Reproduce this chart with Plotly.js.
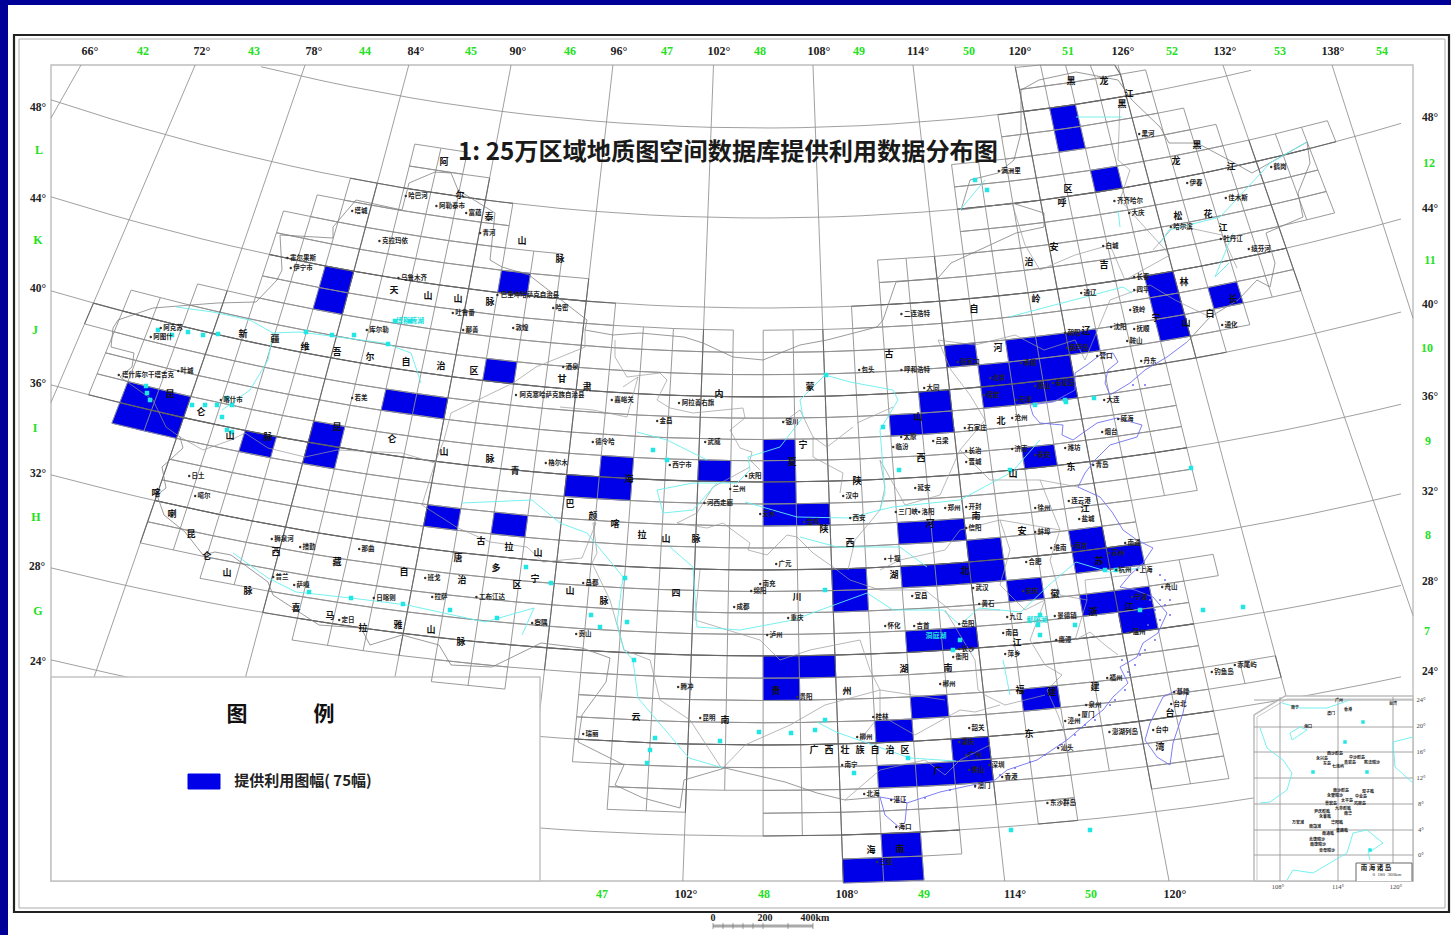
<!DOCTYPE html>
<html><head><meta charset="utf-8">
<script src="https://cdn.plot.ly/plotly-3.0.1.min.js"></script>
<style>html,body{margin:0;padding:0;background:#fff}#c{width:1451px;height:935px}</style>
</head><body><div id="c"></div>
<script>
// ---- map scale tables ----
const latCentre=[[16,932],[18,884],[20,836],[24,745],[28,656],[32,570],[36,482],[40,397],[44,308],[48,218],[52,128],[56,38]];
const latSag=[[16,75],[20,80],[24,85],[28,88],[32,95],[36,97],[40,106],[44,111],[48,118],[52,123],[56,126]];
const lonSlope=[[66,-.5132],[72,-.4273],[78,-.3447],[84,-.2667],[90,-.1898],[96,-.1132],[102,-.0376],[108,.0372],[114,.1124],[120,.189],[126,.2665],[132,.3454],[138,.4274]];
// ---- sheets supplied (south latitude, west longitude) : 75 sheets ----
const suppliedSheets=[
[36,75],[36,76.5],[35,75],[35,76.5],[43,82.5],[42,82.5],[44,91.5],[40,91.5],[38,87],[38,88.5],
[35,81],[36,84],[35,84],[35,96],[35,97.5],[36,97.5],[36,102],[33,90],[33,93],[51,121.5],
[50,121.5],[48,123],[43,124.5],[42,124.5],[41,124.5],[42,127.5],[41,114],[41,117],[41,118.5],[41,120],
[40,115.5],[40,117],[40,118.5],[39,115.5],[39,117],[39,118.5],[39,112.5],[38,111],[38,112.5],[36,117],
[37,105],[36,105],[35,105],[34,105],[34,106.5],[33,111],[33,112.5],[32,114],[31,111],[31,112.5],
[31,114],[30,115.5],[32,118.5],[31,118.5],[31,120],[29,118.5],[29,120],[28,120],[28,111],[28,112.5],
[31,108],[30,108],[27,105],[27,106.5],[26,105],[25,111],[24,109.5],[23,112.5],[22,109.5],[22,111],
[22,112.5],[25,115.5],[19,109.5],[18,108],[18,109.5]];
// ---- sheet grid: south latitude of each row, then its west/east longitude runs ----
const gridRows=[
[53,[[120,126]]],[52,[[120,127.5]]],[51,[[118.5,127.5]]],[50,[[118.5,129]]],
[49,[[85.5,88.5],[115.5,130.5]]],[48,[[85.5,90],[115.5,136.5]]],[47,[[82.5,91.5],[115.5,135]]],[46,[[81,91.5],[115.5,135]]],
[45,[[79.5,94.5],[111,135]]],[44,[[79.5,96],[111,132]]],[43,[[79.5,97.5],[109.5,132]]],[42,[[79.5,103.5],[105,132]]],
[41,[[76.5,129]]],[40,[[73.5,127.5]]],[39,[[72,124.5]]],[38,[[73.5,124.5]]],[37,[[73.5,124.5]]],[36,[[73.5,124.5]]],
[35,[[75,124.5]]],[34,[[78,124.5]]],[33,[[78,121.5]]],[32,[[78,121.5]]],[31,[[78,121.5]]],[30,[[78,124.5]]],
[29,[[81,123]]],[28,[[84,123]]],[27,[[85.5,123]]],[26,[[91.5,94.5],[97.5,123]]],[25,[[97.5,126]]],[24,[[97.5,123]]],
[23,[[97.5,123]]],[22,[[99,123]]],[21,[[99,102],[105,117],[120,123]]],[20,[[105,112.5],[115.5,117]]],[19,[[108,112.5]]],[18,[[108,111]]]];
const parallels=[52,48,44,40,36,32,28,24,20];
const meridians=[66,72,78,84,90,96,102,108,114,120,126,132,138];
const meridianTop={66:[81,.566],138:[1332,.32]};
// ---- lines (page pixels) ----
const nationalBorder=[[113,328],[118,320],[153,308],[217,303],[256,302],[277,280],[282,270],[280,235],[333,238],[333,227],[356,200],[402,210],[409,183],[435,172],[451,173],[458,190],[495,213],[490,260],[502,267],[529,275],[587,320],[585,330],[613,335],[640,333],[684,337],[703,343],[733,357],[763,360],[800,345],[827,340],[877,327],[883,320],[896,282],[938,278],[951,263],[991,245],[1016,233],[1044,227],[1044,213],[1012,203],[961,210],[970,180],[998,173],[1014,160],[1021,133],[1021,90],[1039,80],[1076,72],[1118,80],[1132,100],[1160,127],[1169,143],[1197,143],[1229,160],[1252,173],[1307,142],[1310,163],[1298,193],[1303,217],[1266,233],[1275,263],[1270,287],[1257,280],[1238,300],[1210,317],[1187,342]];
const southBorder=[[880,797],[845,800],[817,793],[785,782],[725,768],[684,780],[680,808],[643,798],[615,785],[624,765],[578,742],[582,715],[606,682],[610,658],[582,648],[541,643],[492,667],[451,665],[439,645],[402,635],[370,645],[361,628],[319,625],[296,610],[273,595],[268,582],[231,555],[215,552],[203,555],[185,532],[164,515],[157,495],[166,488],[162,467],[183,448],[180,437],[166,427],[153,400],[120,377],[132,367],[134,353],[111,347],[113,328]];
const provinceLines=[
[[180,437],[203,450],[231,440],[245,433],[268,448],[305,457],[337,450],[402,453],[435,463],[444,440],[451,413],[513,383],[536,367],[585,347],[585,330]],
[[435,463],[422,505],[458,528],[490,542],[527,547],[543,562],[582,558],[596,523],[593,523]],
[[560,407],[593,410],[627,417],[638,377],[623,387]],
[[615,340],[615,357],[627,377],[660,373],[667,380],[657,400],[670,408],[693,413],[743,408],[745,418],[730,430],[740,448],[752,452],[750,460],[760,470]],
[[782,423],[800,410],[813,437],[813,457],[843,473],[840,493]],
[[853,427],[827,447],[813,437]],
[[893,407],[857,423]],[[880,460],[885,487],[880,510]],
[[593,523],[597,553],[592,563],[610,600],[624,650],[650,660],[660,700],[690,720],[722,769]],
[[677,523],[707,528],[723,523],[750,543],[748,550],[767,555],[787,535],[797,537],[813,553],[833,567]],
[[697,513],[713,487],[750,467]],
[[677,523],[697,513]],
[[880,510],[855,540],[848,570]],
[[833,567],[850,580],[880,590],[925,590]],
[[700,570],[695,620],[760,640],[780,660],[810,650],[860,640]],
[[970,395],[951,370],[938,340],[975,345],[1015,335],[1044,350],[1075,340],[1085,360]],
[[1012,203],[1025,245],[1040,270],[1075,255],[1110,245],[1125,280],[1170,255],[1120,200],[1130,170],[1118,160],[1120,100]],
[[1085,360],[1110,300],[1150,285],[1175,300],[1210,317]],
[[1153,250],[1175,225],[1222,235],[1237,268]],
[[960,450],[990,480],[1040,480],[1078,487]],
[[880,460],[905,505],[940,495],[960,450],[985,420],[970,395]],
[[1040,480],[1060,530],[1000,520],[960,530],[945,550],[900,560],[880,570]],
[[1060,530],[1050,560],[1060,595],[1087,600],[1085,580],[1130,575]],
[[1000,520],[1010,550],[1000,585],[1025,610],[1045,600]],
[[925,590],[950,610],[1000,610]],
[[1045,600],[1030,640],[1045,665],[1062,675],[1047,690],[1058,715],[1067,740]],
[[1087,600],[1075,640],[1090,632],[1105,645],[1118,655]],
[[945,610],[975,660],[978,690],[985,695],[1005,705],[1045,695]],
[[860,640],[870,670],[880,690],[945,700]],
[[722,769],[745,745],[790,725],[825,705],[880,690],[880,715],[915,735],[960,710],[975,712],[1000,705]],
[[880,715],[860,740]],[[845,800],[880,770],[925,760],[945,775]],[[990,745],[960,760],[945,775]]];
const blueCoast=[[1187,342],[1167,357],[1145,370],[1130,383],[1110,395],[1105,383],[1108,370],[1118,362],[1113,353],[1100,355],[1087,365],[1075,373],[1075,390],[1053,402],[1030,405],[1033,415],[1040,423],[1063,425],[1062,435],[1073,440],[1087,430],[1097,423],[1117,418],[1142,425],[1137,437],[1110,445],[1105,450],[1095,460],[1085,473],[1078,487],[1100,497],[1112,512],[1123,530],[1137,540],[1153,548],[1143,563],[1130,575],[1120,587],[1135,590],[1153,597],[1167,613],[1158,633],[1143,643],[1137,657],[1120,667],[1128,683],[1113,697],[1103,710],[1090,720],[1067,740],[1037,760],[1007,770],[995,780],[963,787],[940,792],[907,803],[897,800],[880,797],[885,815],[900,828],[905,822],[907,803]];
const taiwanCoast=[[1177,690],[1163,697],[1150,723],[1145,740],[1157,757],[1170,765],[1173,743],[1183,713],[1187,693],[1177,690]];
const coastIslands=[[1150,600],[1155,610],[1160,620],[1165,605],[1170,600],[1148,625],[1155,640],[1145,650],[1135,665],[1130,675],[1125,690],[1115,700],[1110,705],[1095,720],[1085,725],[1075,735],[1060,745],[1045,755],[1030,762],[1015,768],[1000,775],[990,782],[975,787],[950,790],[925,798],[905,800],[1160,575],[1165,580],[1170,590],[1133,385],[1145,385],[1128,672],[1122,660],[1140,655],[1170,615],[1160,600]];
const rivers=[
[[637,432],[667,440],[707,460]],
[[657,490],[663,513],[693,510],[717,483],[737,483],[750,470],[748,457],[780,447],[803,417],[800,400],[825,375],[850,382],[893,390],[898,400],[880,430],[883,470],[885,493],[880,510],[893,507],[960,500],[1012,472],[1040,440]],
[[657,490],[693,483],[717,483]],
[[745,502],[797,517],[850,518],[880,510]],
[[800,537],[837,547],[900,547],[927,567]],
[[462,503],[532,500],[560,523],[587,533],[623,577],[617,623],[624,650],[633,660],[638,698],[689,758],[723,768]],
[[670,547],[693,567],[697,627],[740,630],[793,620],[867,593],[893,610],[943,610],[960,625],[979,608],[1021,612],[1049,585],[1076,562],[1109,572],[1141,568]],
[[233,553],[268,578],[296,592],[351,598],[407,605],[485,622],[534,608],[522,635]],
[[176,307],[213,312],[250,320],[273,333],[300,332],[384,343],[411,353],[421,383]],
[[273,333],[268,360],[250,390],[222,410]],
[[1076,117],[1122,117]],[[1307,142],[1270,163],[1261,173],[1220,217],[1169,230],[1160,243]],
[[1118,210],[1120,227]],[[1009,317],[1072,300],[1123,287],[1132,293]],
[[1229,263],[1215,277],[1233,233]],[[817,722],[836,732],[910,758],[956,761]],
[[960,210],[985,180]],[[1003,660],[1010,695]]];
const lakes=[[158,330],[172,335],[188,332],[203,335],[218,334],[146,386],[147,393],[150,400],[192,405],[205,405],[217,405],[227,398],[232,405],[222,417],[227,430],[232,432],[306,332],[332,335],[354,335],[388,344],[395,321],[410,321],[653,450],[667,460],[309,592],[351,598],[403,604],[450,610],[497,618],[526,567],[551,583],[625,578],[591,615],[600,627],[627,622],[634,660],[655,738],[650,750],[647,763],[825,590],[1040,615],[1038,625],[1040,635],[1035,405],[1065,400],[953,650],[960,640],[1116,570],[1105,570],[1075,625],[1140,610],[1203,610],[1243,607],[1011,830],[1090,830],[825,720],[791,733],[815,730],[854,773],[908,758],[720,741],[759,732],[1010,470],[899,470],[1191,468],[826,375],[883,427],[975,180],[987,190],[1066,402],[1094,398]];
// ---- frame, inset and scale ----
const legendBox=[[51,677],[540,677],[540,881],[51,881],[51,677]];
const insetBox=[[1254,881],[1254,715],[1285,696],[1413,696],[1413,881],[1254,881]];
const insetInner=[[1257,881],[1257,717],[1287,699],[1413,699]];
const insetSea=[[1356,881],[1356,863],[1412,863],[1412,881]];
const insetRows=[700,727,752,778,804,830,855];
const insetCols=[1280,1338,1393];
const insetCoast=[[[1282,703],[1300,708],[1327,708],[1350,700]],[[1290,733],[1292,740],[1307,730],[1300,727],[1290,733]],[[1260,728],[1267,748],[1283,760],[1292,773],[1287,790],[1270,802],[1260,803]],[[1287,880],[1293,870],[1313,873],[1347,853],[1353,833],[1367,830],[1383,843],[1368,853],[1370,860]],[[1413,737],[1393,742],[1395,767],[1413,783]]];
const insetBlobs=[[1313,772],[1367,772],[1345,742],[1363,722],[1370,850]];
const legendSwatch=[[188,774],[220,774],[220,789],[188,789],[188,774]];
const scaleBar=[[713,926],[813,926]];
const scaleTicks=[713,723,733,743,753,763,788,813];
// ---- texts ----
const topDeg=[["66°",90],["72°",202],["78°",314],["84°",416],["90°",518],["96°",619],["102°",719],["108°",819],["114°",918],["120°",1020],["126°",1123],["132°",1225],["138°",1333]];
const topGreen=[["42",143],["43",254],["44",365],["45",471],["46",570],["47",667],["48",760],["49",859],["50",969],["51",1068],["52",1172],["53",1280],["54",1382]];
const leftDeg=[["48°",38,108],["44°",38,199],["40°",38,289],["36°",38,384],["32°",38,474],["28°",37,567],["24°",38,662]];
const leftGreen=[["L",39,151],["K",38,241],["J",35,331],["I",35,429],["H",36,518],["G",38,612]];
const rightDeg=[["48°",1430,118],["44°",1430,209],["40°",1430,305],["36°",1430,397],["32°",1430,492],["28°",1430,582],["24°",1430,672]];
const rightGreen=[["12",1429,164],["11",1430,261],["10",1427,349],["9",1428,442],["8",1428,536],["7",1427,632]];
const bottomDeg=[["102°",686],["108°",847],["114°",1015],["120°",1175]];
const bottomGreen=[["47",602],["48",764],["49",924],["50",1091]];
const provinceChars=[["新",243,335],["疆",275,340],["维",305,348],["吾",337,353],["尔",370,358],["自",406,363],["治",441,367],["区",474,372],["天",394,291],["山",428,297],["山",458,300],["脉",490,303],["阿",444,163],["尔",460,196],["泰",489,218],["山",522,242],["脉",560,260],["昆",170,395],["仑",201,413],["山",230,437],["脉",268,438],["昆",337,428],["仑",392,440],["山",444,453],["脉",490,460],["甘",562,380],["肃",587,388],["青",515,472],["海",629,480],["巴",570,505],["颜",593,517],["喀",615,525],["拉",642,536],["山",666,540],["脉",696,540],["喀",156,494],["喇",172,515],["昆",191,535],["仑",207,557],["山",227,574],["脉",248,592],["西",276,553],["藏",337,563],["自",404,573],["治",462,581],["区",517,586],["唐",458,559],["古",481,542],["拉",509,548],["山",538,554],["多",496,569],["宁",535,580],["山",570,592],["脉",604,602],["四",676,594],["喜",296,609],["马",330,617],["拉",363,629],["雅",398,626],["山",431,631],["脉",461,643],["云",636,718],["南",725,721],["内",719,395],["蒙",810,388],["古",889,355],["自",974,310],["治",1029,263],["区",1068,190],["河",998,349],["北",1001,422],["宁",803,446],["夏",792,463],["山",918,418],["西",921,459],["山",1013,475],["东",1071,468],["陕",857,482],["南",976,517],["河",930,525],["陕",824,530],["西",850,544],["湖",894,576],["北",965,572],["安",1022,532],["徽",1055,595],["江",1085,510],["苏",1099,562],["浙",1093,613],["江",1129,608],["川",797,598],["贵",776,692],["州",847,692],["湖",904,670],["南",948,669],["江",1017,644],["福",1020,691],["建",1052,693],["建",1095,688],["广",938,772],["东",1029,735],["台",1170,714],["湾",1160,748],["海",871,851],["南",900,850],["广",814,751],["西",829,751],["壮",845,751],["族",860,751],["自",875,751],["治",890,751],["区",905,751],["黑",1071,82],["龙",1104,82],["江",1129,95],["黑",1122,105],["黑",1197,146],["龙",1176,162],["江",1231,168],["江",1223,229],["松",1178,217],["花",1208,215],["辽",1086,332],["宁",1156,319],["吉",1104,266],["林",1184,283],["白",1210,315],["山",1186,324],["长",1233,300],["呼",1062,204],["安",1054,248],["岭",1036,300]];
const cityNames=[["哈巴河",418,196],["阿勒泰市",452,206],["富蕴",475,213],["青河",489,233],["塔城",361,211],["克拉玛依",395,241],["霍尔果斯",303,258],["伊宁市",303,268],["乌鲁木齐",414,278],["吐鲁番",465,313],["库尔勒",379,330],["哈密",562,308],["若羌",361,398],["鄯善",472,330],["敦煌",522,328],["阿克塞哈萨克族自治县",552,395],["巴里坤哈萨克自治县",530,295],["酒泉",572,367],["嘉峪关",624,400],["阿拉善右旗",698,403],["西宁市",682,465],["格尔木",558,463],["德令哈",605,442],["武威",714,442],["金昌",666,421],["喀什市",233,400],["阿克苏",173,328],["阿图什",163,337],["塔什库尔干塔吉克",148,375],["叶城",187,371],["日土",198,476],["噶尔",204,496],["狮泉河",284,539],["措勤",309,547],["那曲",368,549],["普兰",282,577],["萨嘎",303,585],["日喀则",386,598],["拉萨",441,597],["察隅",541,623],["工布江达",492,597],["定日",348,620],["昌都",592,583],["班戈",434,578],["贡山",585,634],["腾冲",687,687],["瑞丽",592,734],["昆明",709,718],["河西走廊",720,503],["二连浩特",917,314],["呼和浩特",917,370],["包头",868,370],["张家口",970,362],["大同",933,388],["北京",999,378],["天津",1025,400],["保定",993,395],["唐山",1044,386],["秦皇岛",1065,383],["承德",1030,363],["朝阳",1074,333],["葫芦岛",1079,348],["通辽",1090,293],["沈阳",1120,327],["铁岭",1139,310],["抚顺",1143,329],["鞍山",1136,341],["营口",1106,356],["丹东",1150,361],["大连",1113,400],["四平",1143,290],["长春",1143,277],["白城",1112,246],["齐齐哈尔",1130,201],["大庆",1138,213],["哈尔滨",1183,227],["佳木斯",1238,198],["伊春",1196,183],["鹤岗",1280,167],["黑河",1148,134],["满洲里",1011,171],["牡丹江",1233,239],["绥芬河",1261,249],["通化",1231,325],["济南",1021,449],["泰安",1044,455],["青岛",1102,465],["威海",1127,419],["烟台",1111,432],["潍坊",1074,448],["石家庄",977,428],["沧州",1021,418],["太原",910,437],["吕梁",942,441],["临汾",902,447],["长治",975,451],["晋城",975,462],["银川",792,422],["西安",859,518],["宝鸡",813,522],["天水",769,514],["兰州",739,489],["庆阳",755,476],["延安",924,488],["汉中",852,496],["三门峡",908,512],["洛阳",928,512],["郑州",954,508],["开封",975,507],["徐州",1044,508],["连云港",1081,501],["盐城",1088,519],["蚌埠",1044,532],["淮南",1060,548],["南京",1081,546],["合肥",1035,562],["信阳",975,528],["南通",1134,543],["上海",1146,570],["杭州",1125,570],["苏州",1118,553],["武汉",982,588],["黄石",988,604],["九江",1016,617],["安庆",1032,591],["宜昌",921,596],["十堰",894,559],["广元",785,564],["南充",769,584],["绵阳",760,591],["成都",743,607],["重庆",797,618],["泸州",776,635],["贵阳",806,697],["怀化",894,626],["吉首",923,626],["岳阳",968,624],["长沙",968,649],["南昌",1012,633],["景德镇",1067,616],["宁波",1141,597],["温州",1139,632],["舟山",1171,587],["萍乡",1014,654],["鹰潭",1065,640],["衡阳",962,657],["郴州",949,684],["福州",1116,678],["厦门",1088,715],["漳州",1074,721],["泉州",1095,705],["汕头",1067,748],["广州",975,755],["肇庆",968,742],["韶关",978,728],["桂林",882,717],["柳州",866,737],["南宁",851,765],["北海",873,794],["海口",905,827],["三亚",886,862],["湛江",900,800],["深圳",998,765],["香港",1011,777],["澳门",984,786],["佛山",978,770],["基隆",1183,692],["台北",1180,704],["台中",1162,730],["澎湖列岛",1125,732],["钓鱼岛",1224,672],["赤尾屿",1247,665],["东沙群岛",1063,803]];
const lakeNames=[["博斯腾湖",410,321],["洞庭湖",936,636],["鄱阳湖",1037,620]];
const insetNames=[["西沙群岛",1335,754],["中沙群岛",1357,758],["永兴岛",1322,759],["东岛",1327,764],["黄岩岛",1350,763],["宪法暗沙",1372,763],["七连屿",1338,767],["南沙群岛",1341,791],["双子礁",1368,792],["永登暗沙",1335,796],["中业岛",1361,797],["太平岛",1347,801],["景宏岛",1331,804],["鸿庥岛",1360,804],["九章群礁",1343,809],["尹庆群礁",1322,812],["南华",1348,814],["永暑礁",1325,817],["华阳礁",1337,823],["万安滩",1298,823],["南薇滩",1315,827],["皇路礁",1342,831],["南通礁",1328,834],["北康暗沙",1317,840],["南康暗沙",1318,845],["曾母暗沙",1327,851],["南宁",1295,708],["广州",1339,701],["澳门",1331,714],["香港",1348,710],["台湾",1393,704],["海口",1308,727]];
const insetLat=[["24°",1421,700],["20°",1421,726],["16°",1421,752],["12°",1421,778],["8°",1421,804],["4°",1421,830],["0°",1421,855]];
const insetLon=[["108°",1278,887],["114°",1338,887],["120°",1396,887]];
const scaleText=[["0",713,918],["200",765,918],["400km",815,918]];
const legendHead=[["图",237,716],["例",324,716]];
const legendLabel="提供利用图幅( 75幅)";
const titleText="1: 25万区域地质图空间数据库提供利用数据分布图";

// ---- scale helpers ----
function interp(t,v){
  if(v<=t[0][0])return t[0][1];
  for(let i=1;i<t.length;i++){ if(v<=t[i][0]){const a=t[i-1],b=t[i];return a[1]+(b[1]-a[1])*(v-a[0])/(b[0]-a[0]);} }
  return t[t.length-1][1];
}
function place(lon,lat){
  const k=interp(lonSlope,lon),c=interp(latCentre,lat),s=interp(latSag,lat);
  let X=k*(c+1265);
  for(let i=0;i<6;i++){const y=c-s*(X/712)*(X/712);X=k*(y+1265);}
  const y=c-s*(X/712)*(X/712);
  return [763.5+X,Math.max(y,65)];
}
function pathXY(list){const x=[],y=[];list.forEach(l=>{l.forEach(p=>{x.push(p[0]);y.push(p[1]);});x.push(null);y.push(null);});return {x,y};}
function line(list,color,width,extra){const p=pathXY(list);return Object.assign({type:'scatter',mode:'lines',x:p.x,y:p.y,hoverinfo:'skip',line:{color,width}},extra||{});}
function label(list,size,color,family,weight){return {type:'scatter',mode:'text',x:list.map(d=>d[1]),y:list.map(d=>d[2]),text:list.map(d=>d[0]),textposition:'middle center',hoverinfo:'skip',cliponaxis:false,textfont:{size,color,family,weight:weight||400}};}
const CJK='"Noto Sans CJK SC"',SER='"Liberation Serif"';

// graticule
const parLines=parallels.map(lat=>{const pts=[];for(let x=51;x<=1413;x+=30){const X=x-763.5;const y=interp(latCentre,lat)-interp(latSag,lat)*(X/712)*(X/712);if(y>=65)pts.push([x,y]);}
  return pts;});
const merLines=meridians.map(lon=>{const o=meridianTop[lon],k=interp(lonSlope,lon);const xt=o?o[0]:763.5+k*1330,m=o?(lon<100?-o[1]:o[1]):k;
  let yb=881,xb=xt+m*(yb-65);
  if(xb<51){yb=65+(51-xt)/m;xb=51;} if(xb>1413){yb=65+(1413-xt)/m;xb=1413;}
  return [[xt,65],[xb,yb]];});
// grid: whole-degree sheets in a lighter stroke, the 6 x 4 degree map lines darker
const gridMinor=[],gridMajor=[];
gridRows.forEach(r=>{const lat=r[0];r[1].forEach(run=>{
  const s=[],n=[];
  for(let lon=run[0];lon<=run[1]+.01;lon+=1.5){
    s.push(place(lon,lat));n.push(place(lon,lat+1));
    (lon%6===0?gridMajor:gridMinor).push([place(lon,lat),place(lon,lat+1)]);
  }
  (lat%4===0?gridMajor:gridMinor).push(s);
  ((lat+1)%4===0?gridMajor:gridMinor).push(n);
});});
// sheets
const sheetPolys=suppliedSheets.map(c=>[place(c[1],c[0]),place(c[1]+1.5,c[0]),place(c[1]+1.5,c[0]+1),place(c[1],c[0]+1),place(c[1],c[0])]);
const sheetPath=pathXY(sheetPolys);
// city dots sit just left of the names
const cityDots={x:cityNames.map(d=>d[1]-d[0].length*3.4-2),y:cityNames.map(d=>d[2])};

const traces=[
 line(parLines,'#959595',.9),
 line(merLines,'#959595',.9),
 Object.assign(line([legendBox],'#c4c4c4',1.5),{fill:'toself',fillcolor:'#ffffff'}),
 Object.assign(line([insetBox],'#bdbdbd',1.5),{fill:'toself',fillcolor:'#ffffff'}),
 line([insetInner],'#c8c8c8',1),
 {type:'scatter',mode:'lines',x:sheetPath.x,y:sheetPath.y,fill:'toself',fillcolor:'#0000e8',line:{color:'#0000e8',width:.5},hoverinfo:'skip'},
 line(gridMinor,'#8f8f8f',.9),
 line(gridMajor,'#666666',1.05),
 line(provinceLines,'#9a9a9a',.7),
 line([nationalBorder,southBorder],'#808080',.8),
 line(rivers,'#66eeee',.9),
 line([blueCoast,taiwanCoast],'#7070f0',.9),
 {type:'scatter',mode:'markers',x:coastIslands.map(d=>d[0]),y:coastIslands.map(d=>d[1]),marker:{symbol:'circle',size:2,color:'#6a6af0'},hoverinfo:'skip'},
 {type:'scatter',mode:'markers',x:lakes.map(d=>d[0]),y:lakes.map(d=>d[1]),marker:{symbol:'square',size:4.5,color:'#22e6e6'},hoverinfo:'skip'},
 {type:'scatter',mode:'markers',x:cityDots.x,y:cityDots.y,marker:{symbol:'circle',size:2.4,color:'#333'},hoverinfo:'skip'},
 line(insetRows.map(y=>[[1254,y],[1413,y]]),'#9a9a9a',.9),
 line(insetCols.map(x=>[[x,697],[x,881]]),'#9a9a9a',.9),
 line(insetCoast,'#66eeee',.9),
 {type:'scatter',mode:'markers',x:insetBlobs.map(d=>d[0]),y:insetBlobs.map(d=>d[1]),marker:{symbol:'square',size:3.5,color:'#22e6e6'},hoverinfo:'skip'},
 Object.assign(line([insetSea],'#666',1),{fill:'toself',fillcolor:'#fff'}),
 Object.assign(line([legendSwatch],'#0000e8',1),{fill:'toself',fillcolor:'#0000e8'}),
 line([scaleBar],'#aaa',3),
 line(scaleTicks.map(x=>[[x,923],[x,929]]),'#777',.7),
 label(topDeg.map(d=>[d[0],d[1],52]),12,'#222',SER,700),
 label(topGreen.map(d=>[d[0],d[1],52]),12,'#22e022',SER,700),
 label(bottomDeg.map(d=>[d[0],d[1],895]),12,'#222',SER,700),
 label(bottomGreen.map(d=>[d[0],d[1],895]),12,'#22e022',SER,700),
 label(leftDeg,11.5,'#222',SER,700),label(rightDeg,11.5,'#222',SER,700),
 label(leftGreen,12,'#22e022',SER,700),label(rightGreen,12,'#22e022',SER,700),
 label(provinceChars,9,'#111',CJK,700),
 label(cityNames,6.5,'#222',CJK,700),
 label(lakeNames,7,'#22dede',CJK,700),
 label(insetNames,4,'#222',CJK,700),
 label(insetLat,6.5,'#444',SER,400),label(insetLon,6.5,'#444',SER,400),
 label([["南 海 诸 岛",1376,868]],6.5,'#222',CJK,700),
 label([["0  180  360km",1387,875]],5,'#333',SER,400),
 label(scaleText,10,'#222',SER,700),
 label(legendHead,21,'#111',CJK,700),
 label([[legendLabel,303,782]],15,'#222',CJK,700)
];
const layout={
 width:1451,height:935,margin:{l:0,r:0,t:0,b:0},showlegend:false,paper_bgcolor:'#fff',plot_bgcolor:'#fff',
 xaxis:{range:[0,1451],visible:false,fixedrange:true},
 yaxis:{range:[935,0],visible:false,fixedrange:true},
 title:{text:titleText,x:728/1451,y:1-152/935,xanchor:'center',yanchor:'middle',font:{family:CJK,size:24.2,color:'#1a1a1a',weight:700}},
 shapes:[
  {type:'rect',xref:'x',yref:'y',x0:0,x1:1451,y0:0,y1:5,fillcolor:'#000099',line:{width:0},layer:'below'},
  {type:'rect',xref:'x',yref:'y',x0:0,x1:8,y0:0,y1:935,fillcolor:'#000099',line:{width:0},layer:'below'},
  {type:'rect',xref:'x',yref:'y',x0:14,x1:1449,y0:35,y1:912,line:{color:'#222',width:2.2},fillcolor:'#fff',layer:'below'},
  {type:'rect',xref:'x',yref:'y',x0:19,x1:1445,y0:39,y1:908,line:{color:'#aaa',width:1},layer:'below'},
  {type:'rect',xref:'x',yref:'y',x0:51,x1:1413,y0:65,y1:881,line:{color:'#bdbdbd',width:1.4},layer:'below'}
 ]
};
Plotly.newPlot('c',traces,layout,{staticPlot:true,displayModeBar:false});
</script></body></html>
